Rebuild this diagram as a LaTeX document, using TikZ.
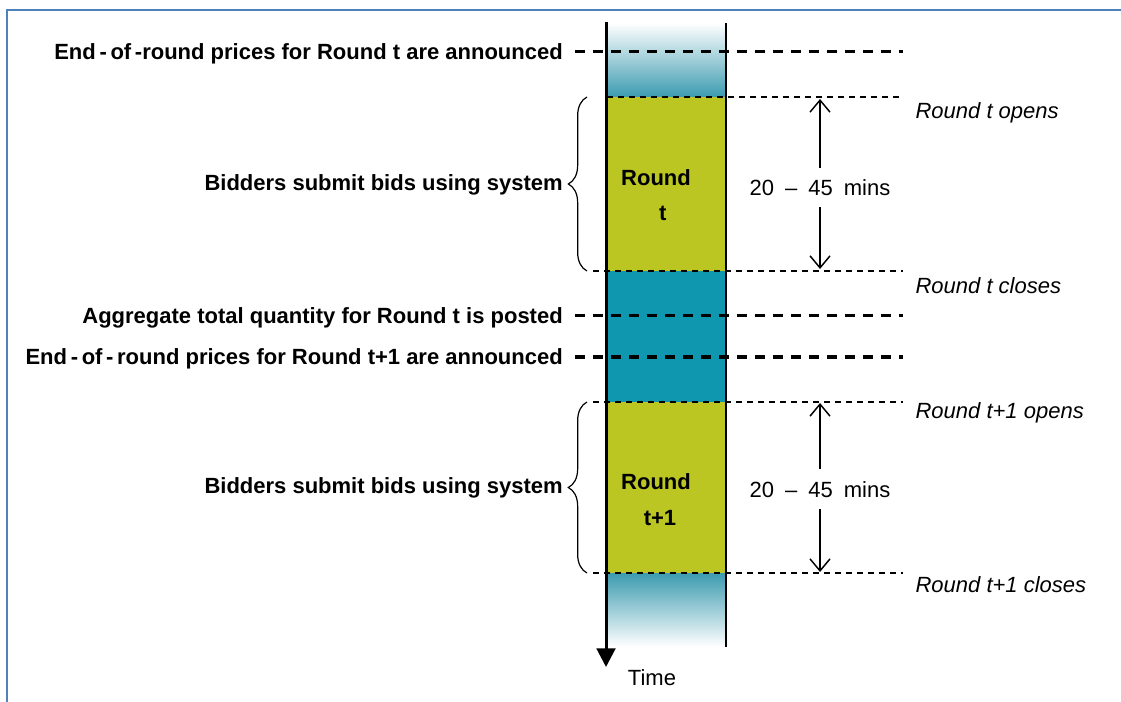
\documentclass[tikz,border=0pt]{standalone}
\usepackage{fontspec}
\setmainfont{Liberation Sans}
\usetikzlibrary{positioning,arrows.meta,decorations.pathreplacing}

\definecolor{roundgreen}{HTML}{BBC623}
\definecolor{gapblue}{HTML}{0E97AE}
\definecolor{fadeblue}{HTML}{3C9BB0}
\definecolor{frameblue}{HTML}{4F81BD}

\begin{document}
\fontsize{16.5}{20}\selectfont
\begin{tikzpicture}[x=0.75pt, y=-0.75pt,
	lbl/.style = {anchor=east, font=\bfseries, inner xsep=9pt, text height=11.8pt, text depth=0pt},
	sidelbl/.style = {anchor=east, font=\bfseries, inner xsep=3pt, text height=11.8pt, text depth=0pt},
	rlbl/.style = {anchor=west, font=\itshape, text height=11.8pt, text depth=0pt},
	inbox/.style = {font=\bfseries},
	thickdash/.style = {line width=2.25pt, dash pattern=on 7.5pt off 6pt},
	thindash/.style = {line width=1.1pt, dash pattern=on 4.5pt off 3.75pt},
	span/.style = {line width=1.1pt, {Straight Barb[length=9pt,width=15pt]}-{Straight Barb[length=9pt,width=15pt]}},
	mins/.style = {fill=white, inner xsep=1pt, inner ysep=9pt, text height=11.8pt, text depth=0pt}]
	\useasboundingbox (0,0) rectangle (1121,702);
	\draw[frameblue, line width=1.7pt] (7,702) -- (7,10) -- (1121,10);

	% the time column
	\shade[top color=white, bottom color=fadeblue] (607,23) rectangle (726,97);
	\fill[roundgreen] (607,97) rectangle (726,271);
	\fill[gapblue] (607,271) rectangle (726,402);
	\fill[roundgreen] (607,402) rectangle (726,573);
	\shade[top color=fadeblue, bottom color=white] (607,573) rectangle (726,647);
	\coordinate (top) at (606,22);
	\coordinate (end) at (606,667);
	\coordinate (rtop) at (726,23);
	\coordinate (rend) at (726,647);
	\draw[line width=2.25pt, -{Triangle[length=14pt,width=14pt]}] (top) -- (end);
	\draw[line width=1.5pt] (rtop) -- (rend);
	\node (time) at (652,678) {Time};

	\node[inbox] (r1) at (656,178) {Round};
	\node[inbox] (t1) [below=4pt of r1, xshift=5pt] {t};
	\node[inbox] (r2) at (656,482) {Round};
	\node[inbox] (t2) [below=3.75pt of r2, xshift=3pt] {t+1};

	% announcements
	\node[lbl] (1) at (575,52) {End\,-\,of\,-round prices for Round t are announced};
	\node[lbl] (3) at (575,316) {Aggregate total quantity for Round t is posted};
	\node[lbl] (4) at (575,357) {End\,-\,of\,-\,round prices for Round t+1 are announced};
	\coordinate (1e) at (903,52);
	\coordinate (3e) at (903,316);
	\coordinate (4e) at (903,357);
	\draw[thickdash] (1) -- (1e);
	\draw[thickdash] (3) -- (3e);
	\draw[thickdash, line width=3pt] (4) -- (4e);

	% open and close
	\coordinate (o1) at (607,97);   \coordinate (o1e) at (903,97);
	\coordinate (c1) at (593,271);  \coordinate (c1e) at (903,271);
	\coordinate (o2) at (593,402);  \coordinate (o2e) at (903,402);
	\coordinate (c2) at (593,573);  \coordinate (c2e) at (903,573);
	\draw[thindash] (o1) -- (o1e);
	\draw[thindash] (c1) -- (c1e);
	\draw[thindash] (o2) -- (o2e);
	\draw[thindash] (c2) -- (c2e);
	\node[rlbl] (5) at (908,111) {Round t opens};
	\node[rlbl] (6) at (908,286) {Round t closes};
	\node[rlbl] (7) at (908,411) {Round t+1 opens};
	\node[rlbl] (8) at (908,585) {Round t+1 closes};

	\coordinate (a1) at (820,99);  \coordinate (b1) at (820,269);
	\coordinate (a2) at (820,403); \coordinate (b2) at (820,572);
	\draw[span] (a1) -- node[mins, pos=0.52] {20\hspace{0.5em}--\hspace{0.5em}45\hspace{0.5em}mins} (b1);
	\draw[span] (a2) -- node[mins, pos=0.51] {20\hspace{0.5em}--\hspace{0.5em}45\hspace{0.5em}mins} (b2);

	% bidding
	\coordinate (k1) at (587,271); \coordinate (k1e) at (587,97);
	\coordinate (k2) at (587,573); \coordinate (k2e) at (587,402);
	\draw[line width=0.9pt, decorate, decoration={brace, amplitude=14pt}] (k1) -- (k1e);
	\draw[line width=0.9pt, decorate, decoration={brace, amplitude=14pt}] (k2) -- (k2e);
	\node[sidelbl] (2) at (567,183) {Bidders submit bids using system};
	\node[sidelbl] (9) at (567,486) {Bidders submit bids using system};
\end{tikzpicture}
\end{document}
